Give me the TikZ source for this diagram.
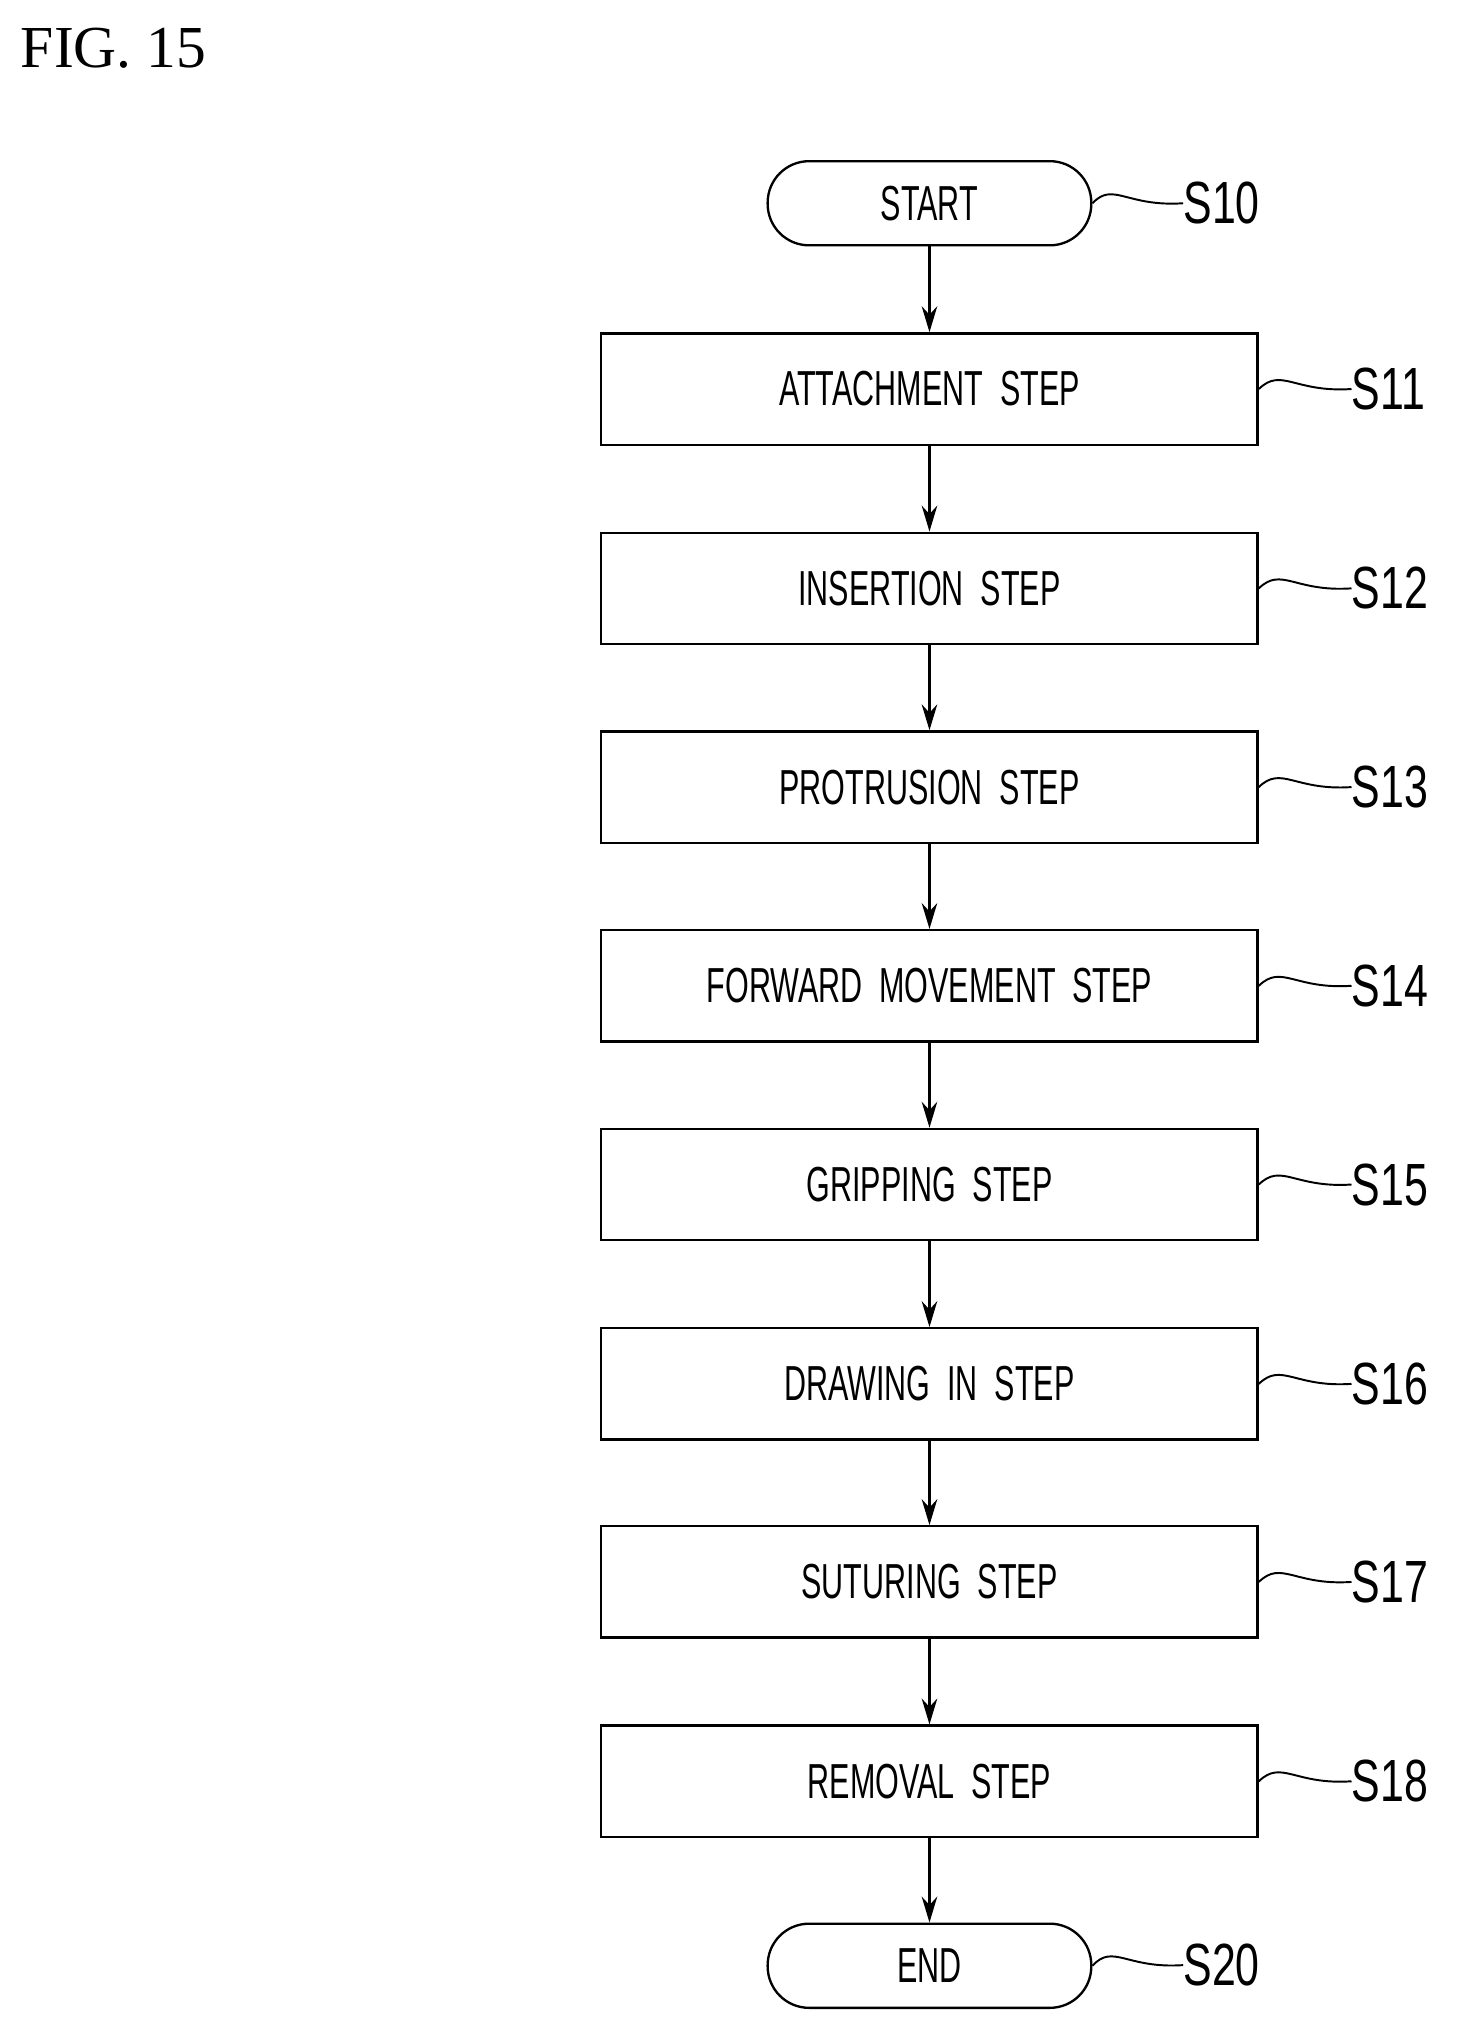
\documentclass[tikz,border=0pt]{standalone}
\usepackage{fontspec}
\setmainfont{Liberation Sans}
\newfontfamily\figfont{Liberation Serif}
\usetikzlibrary{arrows.meta}
\begin{document}
\begin{tikzpicture}[x=1pt,y=-1pt,
  stepbox/.style={draw,line width=1.8pt,minimum width=507pt,minimum height=86pt,inner sep=0pt,font=\fontsize{38}{40}\selectfont},
  termbox/.style={draw,line width=1.8pt,rounded corners=32pt,minimum width=250pt,minimum height=65pt,inner sep=0pt,font=\fontsize{38}{40}\selectfont},
  lbl/.style={anchor=west,inner sep=0pt,font=\fontsize{46}{48}\selectfont},
  arr/.style={line width=1.8pt,-{Stealth[length=20pt,width=12pt]}},
  squig/.style={line width=1.5pt}]
\useasboundingbox (0,0) rectangle (1130,1572);
\node[anchor=west,inner sep=0pt,font=\figfont\fontsize{46}{48}\selectfont] (fig) at (16,37) {FIG. 15};
\newcommand{\nt}[1]{\scalebox{0.62}[1]{#1}}
\node[termbox] (s10) at (718,157) {\nt{START}};
\node[stepbox] (s11) at (718,300.5) {\nt{ATTACHMENT\ \ STEP}};
\node[stepbox] (s12) at (718,454.5) {\nt{INSERTION\ \ STEP}};
\node[stepbox] (s13) at (718,608) {\nt{PROTRUSION\ \ STEP}};
\node[stepbox] (s14) at (718,761.5) {\nt{FORWARD\ \ MOVEMENT\ \ STEP}};
\node[stepbox] (s15) at (718,915) {\nt{GRIPPING\ \ STEP}};
\node[stepbox] (s16) at (718,1069) {\nt{DRAWING\ \ IN\ \ STEP}};
\node[stepbox] (s17) at (718,1222) {\nt{SUTURING\ \ STEP}};
\node[stepbox] (s18) at (718,1376) {\nt{REMOVAL\ \ STEP}};
\node[termbox] (s20) at (718,1518.5) {\nt{END}};
\foreach \a/\b in {s10/s11,s11/s12,s12/s13,s13/s14,s14/s15,s15/s16,s16/s17,s17/s18,s18/s20}
  \draw[arr] (\a) -- (\b);
\node[lbl] (l10) at (914,157) {\scalebox{0.72}[1]{S10}};
\node[lbl] (l20) at (914,1518) {\scalebox{0.72}[1]{S20}};
\draw[squig] (s10.east) .. controls (860,140) and (870,160) .. (l10.west);
\draw[squig] (s20.east) .. controls (860,1501) and (870,1521) .. (l20.west);
\foreach \n/\y in {11/300.5,12/454.5,13/608,14/761.5,15/915,16/1069,17/1222,18/1376}{
  \node[lbl] (l\n) at (1044,\y) {\scalebox{0.72}[1]{S\n}};
  \draw[squig] (s\n.east) .. controls (990,\y-17) and (1000,\y+3) .. (l\n.west);
}
\end{tikzpicture}
\end{document}
